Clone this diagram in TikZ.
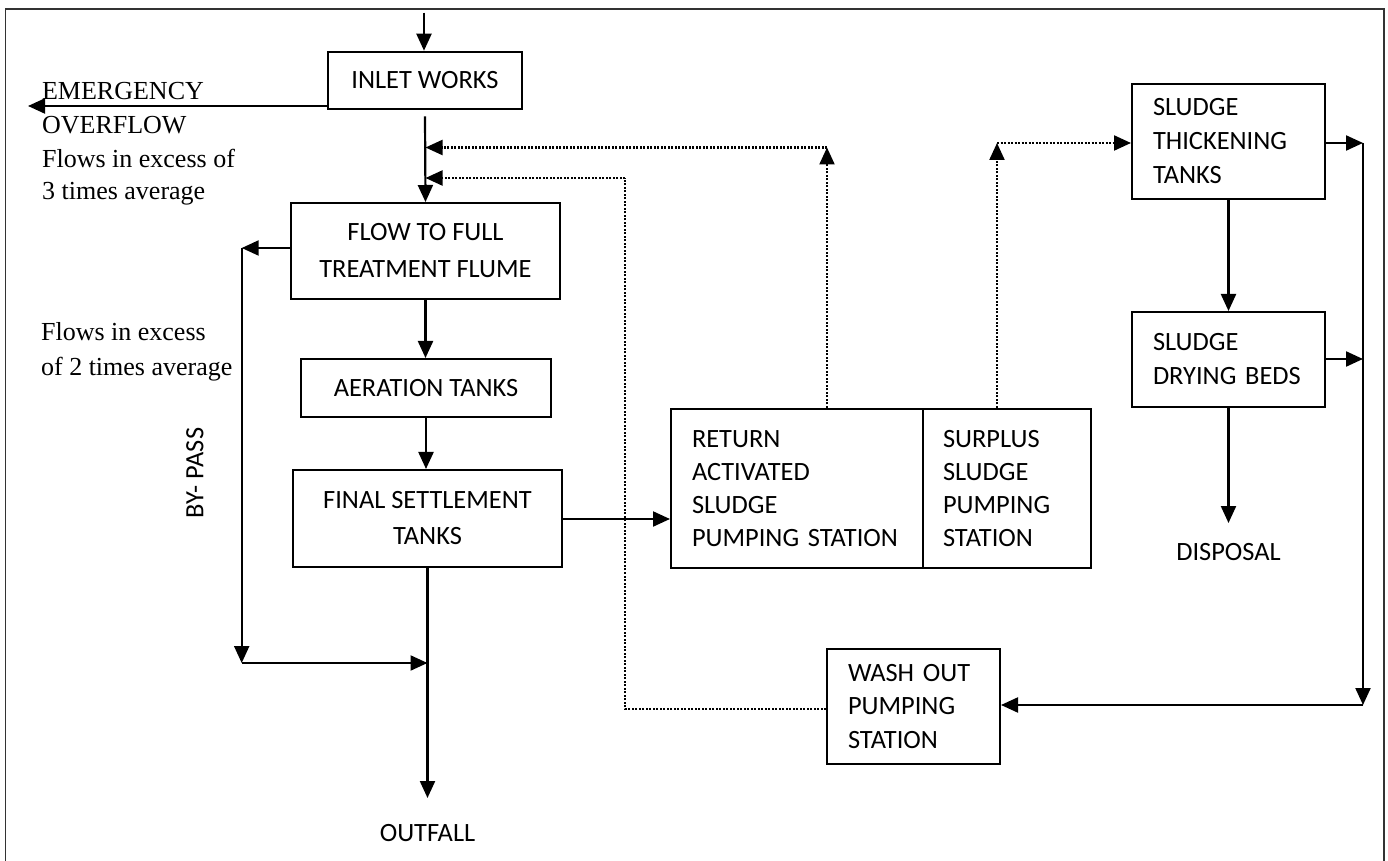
\documentclass[tikz,border=0pt]{standalone}
\usepackage{fontspec}
\setmainfont{Liberation Serif}
\newfontfamily\boxfont{Carlito}
\usetikzlibrary{arrows.meta}
\begin{document}
\begin{tikzpicture}[x=0.5pt,y=-0.5pt,
  cbox/.style={draw, line width=1pt, inner sep=0pt, align=center,
    font=\boxfont\fontsize{13.2}{18.5}\selectfont},
  lbox/.style={draw, line width=1pt, inner ysep=0pt, inner xsep=10.5pt, align=left,
    font=\boxfont\fontsize{13.2}{16.4}\selectfont},
  note/.style={inner sep=0pt, anchor=base west, font=\fontsize{13}{16}\selectfont},
  lab/.style={inner sep=0pt, font=\boxfont\fontsize{13.2}{16}\selectfont},
  arr/.style={line width=1.1pt, -{Triangle[length=8.5pt,width=7.5pt]}},
  dotarr/.style={line width=1.1pt, dash pattern=on 1pt off 0.75pt, -{Triangle[length=8.5pt,width=7.5pt]}},
  dotline/.style={line width=1.1pt, dash pattern=on 1pt off 0.75pt},
  frame/.style={line width=0.6pt, black!80}
]
\useasboundingbox (0,0) rectangle (1388,861);
\draw[frame] (5.5,875) -- (5.5,9) -- (1384,9) -- (1384,875);

% boxes
\node[cbox, minimum width=96.7pt, minimum height=28.8pt] (inlet) at (425,80.5) {INLET WORKS};
\node[cbox, minimum width=134.5pt, minimum height=48pt] (flow) at (425.5,251) {FLOW TO FULL\\TREATMENT FLUME};
\node[cbox, minimum width=125pt, minimum height=29pt] (aer) at (426,388) {AERATION TANKS};
\node[cbox, minimum width=134.5pt, minimum height=48.5pt, font=\boxfont\fontsize{13.2}{18}\selectfont] (final) at (427.5,518.5) {FINAL SETTLEMENT\\TANKS};
\node[lbox, text width=105pt, minimum height=79.5pt] (rasL) at (797,488.5) {RETURN\\ACTIVATED\\SLUDGE\\PUMPING STATION};
\node[lbox, minimum height=79.5pt, inner xsep=10pt, text width=64pt] (rasR) at (1007,488.5) {SURPLUS\\SLUDGE\\PUMPING\\STATION};
\node[lbox, text width=75.5pt, minimum height=57.5pt, font=\boxfont\fontsize{13.2}{17}\selectfont] (thick) at (1228.5,141.5) {SLUDGE\\THICKENING\\TANKS};
\node[lbox, text width=75.5pt, minimum height=47.5pt, font=\boxfont\fontsize{13.2}{17}\selectfont] (dry) at (1228.5,359.5) {SLUDGE\\DRYING BEDS};
\node[lbox, text width=65.5pt, minimum height=57.5pt, font=\boxfont\fontsize{13.2}{16.7}\selectfont] (wash) at (913.5,706.5) {WASH OUT\\PUMPING\\STATION};

% free labels
\node[note] (n1) at (41.7,99.3) {EMERGENCY};
\node[note] (n2) at (41.7,134) {OVERFLOW};
\node[note] (n3) at (41.7,168) {Flows in excess of};
\node[note] (n4) at (41.7,199.3) {3 times average};
\node[note] (n5) at (40.7,340.7) {Flows in excess};
\node[note] (n6) at (40.7,376) {of 2 times average};
\node[lab, rotate=90] (bypass) at (195,473) {BY- PASS};
\node[lab] (outfall) at (427.5,833) {OUTFALL};
\node[lab] (disp) at (1228.5,552) {DISPOSAL};

% coordinates
\coordinate (src) at (424,12.7);
\coordinate (emer) at (28,106);
\coordinate (bp1) at (241.7,248);
\coordinate (bp2) at (241.7,663);
\coordinate (outend) at (427.5,798);
\coordinate (r1) at (827,147.5);
\coordinate (s1) at (997,143);
\coordinate (w1) at (625,709);
\coordinate (w2) at (625,178);
\coordinate (c1) at (1363,143);
\coordinate (c2) at (1363,359);
\coordinate (c3) at (1363,705);
\coordinate (dend) at (1228.5,523);

% main flow
\draw[arr] (src) -- (src |- inlet.north);
\draw[arr] (inlet.west |- emer) -- (emer);
\draw[arr] ([yshift=-3pt]inlet.south) -- (flow.north);
\draw[arr] (flow.south) -- (flow.south |- aer.north);
\draw[arr] (aer.south) -- (aer.south |- final.north);
\draw[arr] (final.south) -- (outend);
\draw[arr] (final.east |- 0,519) -- (rasL.west |- 0,519);

% by-pass
\draw[arr] (flow.west |- bp1) -- (bp1);
\draw[arr] (bp1) -- (bp2);
\draw[arr] (bp2) -- (bp2 -| final.south);

% return sludge (dotted)
\draw[dotarr] (rasL.north -| r1) -- (r1);
\draw[dotarr] (r1) -- (r1 -| flow.north);
\draw[dotarr] (rasR.north -| s1) -- (s1);
\draw[dotarr] (s1) -- (s1 -| thick.west);
\draw[dotline] (wash.west |- w1) -- (w1) -- (w2);
\draw[dotarr] (w2) -- (w2 -| flow.north);

% sludge line
\draw[arr] (thick.south) -- (dry.north);
\draw[arr] (dry.south) -- (dend);
\draw[arr] (thick.east |- c1) -- (c1);
\draw[arr] (dry.east |- c2) -- (c2);
\draw[arr] (c1) -- (c3);
\draw[arr] (c3) -- (c3 -| wash.east);
\end{tikzpicture}
\end{document}
